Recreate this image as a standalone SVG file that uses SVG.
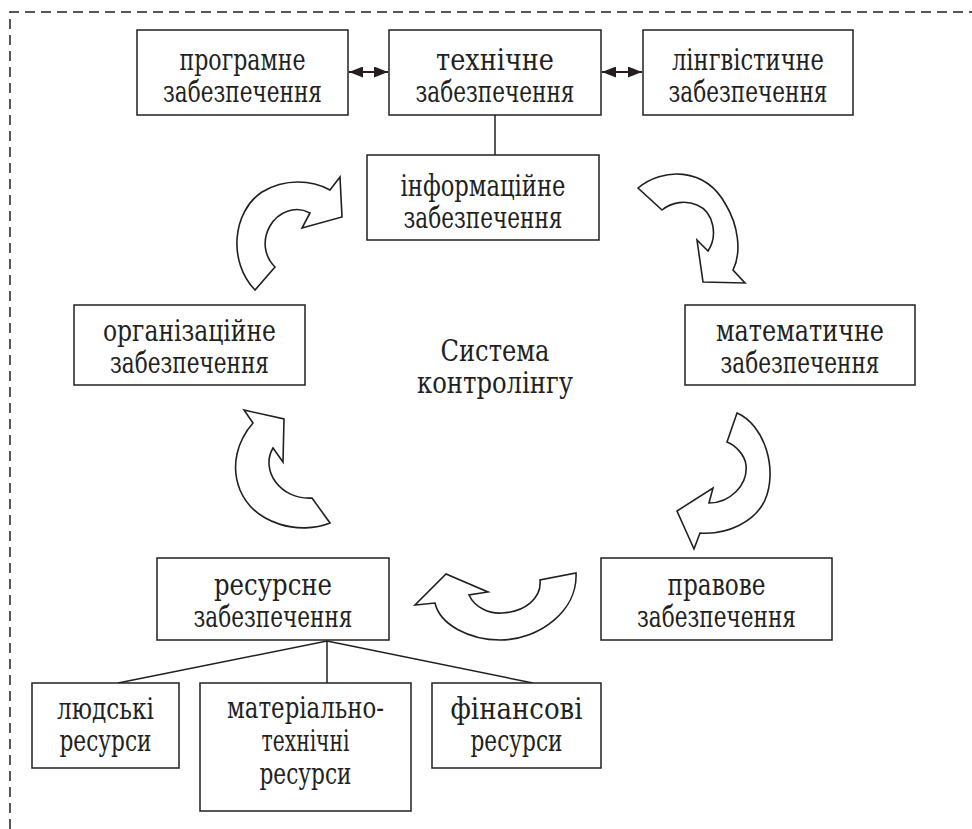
<svg xmlns="http://www.w3.org/2000/svg" width="972" height="829" viewBox="0 0 972 829">
<style>
.box{fill:#fff;stroke:#231f20;stroke-width:1.5}
.t{font-family:'DejaVu Serif',serif;font-stretch:condensed;font-size:30px;fill:#231f20;text-anchor:middle}
.ln{stroke:#231f20;stroke-width:1.5;fill:none}
.ca{fill:#fff;stroke:#231f20;stroke-width:1.6;stroke-linejoin:miter}
.frame{fill:none;stroke:#231f20;stroke-width:1.5;stroke-dasharray:10 6}
</style>
<defs>
<marker id="ah" viewBox="0 0 14 11" refX="14" refY="5.5" markerWidth="14" markerHeight="11" markerUnits="userSpaceOnUse" orient="auto-start-reverse">
<path d="M0,0 L14,5.5 L0,11 Z" fill="#231f20"/>
</marker>
</defs>
<path class="frame" d="M10,829 L10,12 L972,12"/>
<g id="connectors">
<line class="ln" x1="349" y1="72" x2="388" y2="72" style="stroke-width:2" marker-start="url(#ah)" marker-end="url(#ah)"/>
<line class="ln" x1="602" y1="72" x2="642" y2="72" style="stroke-width:2" marker-start="url(#ah)" marker-end="url(#ah)"/>
<line class="ln" x1="495" y1="115" x2="495" y2="155"/>
<polyline class="ln" points="118,683 327,641 533,683"/>
<line class="ln" x1="327" y1="641" x2="327" y2="683"/>
<path class="ca" d="M255,290 C228,262 232,212 262,192 C285,178 312,180 330,190 L340,177 L342,217 L302,228 L310,213 C295,205 278,212 270,226 C262,240 264,256 275,267 Z"/>
<path class="ca" d="M638,188 C662,168 705,166 726,205 C738,225 742,252 733,270 L745,283 L703,282 L697,240 L708,251 C718,236 714,212 697,205 C686,200 672,202 662,210 Z"/>
<path class="ca" d="M737,413 C765,425 778,470 765,500 C755,522 727,535 700,533 L694,549 L677,511 L713,488 L709,503 C730,503 748,485 746,465 C745,455 735,445 727,442 Z"/>
<path class="ca" d="M576,573 C578,610 540,640 500,640 C470,640 440,625 435,603 L415,605 L446,574 L488,592 L469,595 C475,608 490,614 502,613 C525,612 542,598 540,580 Z"/>
<path class="ca" d="M330,523 C300,535 255,525 240,490 C230,465 238,440 253,423 L244,410 L284,419 L283,462 L273,448 C260,470 280,500 312,498 Z"/>
</g>
<g id="programne">
<rect class="box" x="137" y="30" width="211" height="85"/>
<text class="t" x="242.5" y="70" textLength="126" lengthAdjust="spacingAndGlyphs">програмне</text>
<text class="t" x="242.5" y="102" textLength="159" lengthAdjust="spacingAndGlyphs">забезпечення</text>
</g>
<g id="tekhnichne">
<rect class="box" x="389" y="30" width="212" height="85"/>
<text class="t" x="495" y="70" textLength="118" lengthAdjust="spacingAndGlyphs">технічне</text>
<text class="t" x="495" y="102" textLength="159" lengthAdjust="spacingAndGlyphs">забезпечення</text>
</g>
<g id="linhvistychne">
<rect class="box" x="643" y="30" width="210" height="85"/>
<text class="t" x="748" y="70" textLength="152" lengthAdjust="spacingAndGlyphs">лінгвістичне</text>
<text class="t" x="748" y="102" textLength="159" lengthAdjust="spacingAndGlyphs">забезпечення</text>
</g>
<g id="informatsiine">
<rect class="box" x="367" y="155" width="232" height="85"/>
<text class="t" x="483" y="196" textLength="165" lengthAdjust="spacingAndGlyphs">інформаційне</text>
<text class="t" x="483" y="228" textLength="159" lengthAdjust="spacingAndGlyphs">забезпечення</text>
</g>
<g id="orhanizatsiine">
<rect class="box" x="74" y="305" width="231" height="80"/>
<text class="t" x="189.5" y="341" textLength="173" lengthAdjust="spacingAndGlyphs">організаційне</text>
<text class="t" x="189.5" y="373" textLength="159" lengthAdjust="spacingAndGlyphs">забезпечення</text>
</g>
<g id="matematychne">
<rect class="box" x="685" y="305" width="230" height="80"/>
<text class="t" x="800" y="341" textLength="168" lengthAdjust="spacingAndGlyphs">математичне</text>
<text class="t" x="800" y="373" textLength="159" lengthAdjust="spacingAndGlyphs">забезпечення</text>
</g>
<g id="systema">
<text class="t" x="495" y="361" textLength="109" lengthAdjust="spacingAndGlyphs">Система</text>
<text class="t" x="495" y="393" textLength="156" lengthAdjust="spacingAndGlyphs">контролінгу</text>
</g>
<g id="resursne">
<rect class="box" x="157" y="558" width="232" height="82"/>
<text class="t" x="273" y="595" textLength="118" lengthAdjust="spacingAndGlyphs">ресурсне</text>
<text class="t" x="273" y="627" textLength="159" lengthAdjust="spacingAndGlyphs">забезпечення</text>
</g>
<g id="pravove">
<rect class="box" x="601" y="558" width="231" height="82"/>
<text class="t" x="716.5" y="595" textLength="98" lengthAdjust="spacingAndGlyphs">правове</text>
<text class="t" x="716.5" y="627" textLength="159" lengthAdjust="spacingAndGlyphs">забезпечення</text>
</g>
<g id="liudski">
<rect class="box" x="32" y="683" width="147" height="85"/>
<text class="t" x="105.5" y="719" textLength="97" lengthAdjust="spacingAndGlyphs">людські</text>
<text class="t" x="105.5" y="751" textLength="92" lengthAdjust="spacingAndGlyphs">ресурси</text>
</g>
<g id="materialno">
<rect class="box" x="200" y="683" width="211" height="128"/>
<text class="t" x="305.5" y="718" textLength="157" lengthAdjust="spacingAndGlyphs">матеріально-</text>
<text class="t" x="305.5" y="751" textLength="88" lengthAdjust="spacingAndGlyphs">технічні</text>
<text class="t" x="305.5" y="784" textLength="92" lengthAdjust="spacingAndGlyphs">ресурси</text>
</g>
<g id="finansovi">
<rect class="box" x="432" y="683" width="169" height="85"/>
<text class="t" x="516.5" y="719" textLength="132" lengthAdjust="spacingAndGlyphs">фінансові</text>
<text class="t" x="516.5" y="751" textLength="92" lengthAdjust="spacingAndGlyphs">ресурси</text>
</g>
</svg>
